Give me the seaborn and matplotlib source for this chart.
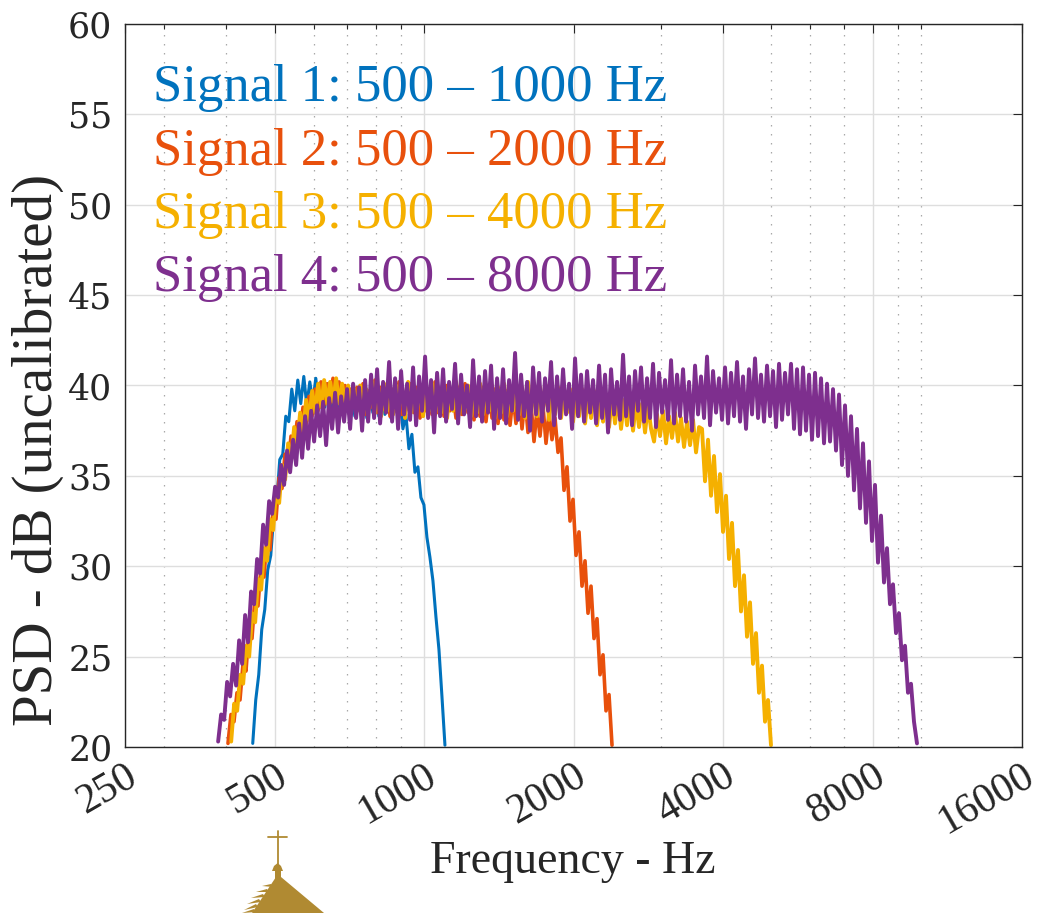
import numpy as np
import pandas as pd
import matplotlib
matplotlib.use("Agg")
import matplotlib.pyplot as plt
import seaborn as sns
from matplotlib.ticker import FixedLocator, FixedFormatter, NullFormatter, NullLocator
from matplotlib.patches import Polygon
from matplotlib.lines import Line2D

# ---------------- data ----------------
signal_labels = ["Signal 1: 500 – 1000 Hz", "Signal 2: 500 – 2000 Hz",
                 "Signal 3: 500 – 4000 Hz", "Signal 4: 500 – 8000 Hz"]
signal_colors = ["#0072BD", "#E8500C", "#F5B000", "#7E2F8E"]
signal_widths = [2.2, 2.6, 2.8, 2.8]

x_major_ticks = [250, 500, 1000, 2000, 4000, 8000, 16000]
x_minor_ticks = [300, 400, 600, 700, 800, 900, 3000, 5000, 6000, 7000, 9000, 10000]
y_ticks = [20, 25, 30, 35, 40, 45, 50, 55, 60]

# frequency span (Hz) of each PSD trace (bins log-spaced between the ends)
sig1_span = (452, 1102)
sig2_span = (403, 2391)
sig3_span = (409, 4997)
sig4_span = (385, 9833)

# PSD values (dB)
sig1_db = [20.2, 22.6, 24.0, 26.5, 27.6, 29.8, 30.6, 32.8, 33.6, 35.9,
           36.2, 38.3, 38.0, 39.8, 38.6, 40.3, 39.0, 40.5, 38.9, 40.2,
           39.1, 40.4, 38.7, 40.0, 38.8, 40.1, 38.5, 39.9, 38.6, 39.7,
           38.4, 39.8, 38.5, 39.6, 38.3, 39.7, 38.6, 39.5, 38.2, 39.6,
           38.5, 39.4, 38.3, 39.5, 38.4, 39.6, 38.2, 39.3, 38.5, 39.2,
           37.6, 38.4, 36.5, 37.3, 35.2, 35.5, 33.8, 33.4, 31.6, 30.5,
           29.2, 27.2, 25.4, 22.8, 20.1]

sig2_db = [20.2, 21.8, 21.4, 23.0, 22.6, 24.6, 24.2, 26.5, 26.0, 28.3,
           27.8, 30.0, 29.4, 31.6, 30.9, 33.1, 32.6, 34.9, 34.3, 36.2,
           35.4, 37.2, 36.4, 38.0, 37.2, 38.8, 37.8, 39.4, 38.3, 39.8,
           38.6, 40.2, 38.9, 40.1, 39.0, 40.4, 39.2, 40.2, 39.1, 40.0,
           39.0, 39.8, 38.8,
           39.9, 38.6, 40.1, 38.4, 39.7, 38.8, 40.3, 38.5, 39.9, 38.7,
           40.0, 38.3, 39.8, 38.6, 40.2, 38.4, 39.6, 38.7, 40.1, 38.5,
           39.9, 38.2, 40.0, 38.6, 39.7, 38.4, 40.2, 38.5, 39.8, 38.3,
           40.0, 38.6, 39.6, 38.2, 39.9, 38.4, 40.1, 38.5, 39.7, 38.1,
           39.8, 38.3, 39.9, 38.0, 39.6, 38.2, 39.8, 37.9, 39.5, 38.1,
           39.7, 37.8, 39.4, 37.9, 39.6, 37.6, 39.3,
           37.4, 39.0, 36.9, 38.7, 37.2, 38.9, 36.8, 38.5, 37.0, 38.2, 36.3,
           37.1, 34.2, 35.5, 32.5, 33.7, 30.6, 31.9, 28.9, 30.3, 27.4,
           28.9, 26.0, 27.1, 24.0, 25.1, 22.0, 22.9, 20.1]

sig3_db = [20.3, 22.4, 22.0, 24.0, 23.5, 25.6, 25.0, 27.4, 26.9, 29.3,
           28.7, 31.0, 30.3, 32.6, 32.0, 34.2, 33.5, 35.6, 34.8, 36.8,
           35.9, 37.7, 36.8, 38.5, 37.5, 39.2, 38.1, 39.7, 38.5, 40.1,
           38.8, 40.3, 39.0, 40.2, 39.1, 40.4, 39.0, 40.1, 38.9, 40.0,
           38.8, 39.8,
           38.6, 40.0, 38.4, 39.8, 38.7, 40.2, 38.5, 39.9, 38.3, 40.1,
           38.6, 39.7, 38.4, 40.0, 38.8, 39.9, 38.2, 40.2, 38.5, 39.8,
           38.7, 40.0, 38.3, 39.9, 38.6, 40.1, 38.4, 39.7, 38.5, 40.0,
           38.2, 39.8, 38.6, 40.2, 38.4, 39.9, 38.7, 40.0, 38.3, 39.8,
           38.5, 40.1, 38.4, 39.7, 38.6, 40.0, 38.2, 39.9, 38.5, 40.1,
           38.3, 39.8, 38.6, 40.0, 38.4, 39.9, 38.2, 40.2, 38.5, 39.7,
           38.3, 39.9, 38.6, 40.0, 38.1, 39.8, 38.4, 39.9, 38.2, 39.7,
           38.5, 39.8, 38.0, 39.6, 38.3, 39.8, 37.9, 39.5, 38.2, 39.7,
           37.8, 39.4, 38.0, 39.5, 37.7, 39.3, 37.9, 39.4, 37.6, 39.2,
           37.8, 39.3, 37.5, 39.1, 37.7, 39.0, 37.4, 38.9, 37.6,
           36.9, 38.4, 37.2, 38.6, 36.8, 38.3, 37.1, 38.5, 36.9, 38.2,
           36.6, 38.0, 36.7, 38.1, 36.3, 37.7,
           37.6, 34.7, 37.0, 33.9, 36.1, 33.0, 35.1, 31.9, 33.9, 30.4,
           32.4, 28.9, 30.9, 27.5, 29.5, 26.1, 28.0, 24.6, 26.3, 23.0,
           24.5, 21.4, 22.6, 20.1]

sig4_db = [20.3, 21.8, 21.5, 23.6, 22.8, 24.6, 23.4, 25.9, 24.6, 27.3,
           25.8, 28.6, 27.9, 30.4, 29.6, 32.3, 31.2, 33.6, 32.9, 34.4,
           33.8, 35.6, 34.5, 36.4, 35.2, 37.0, 35.6, 37.9, 36.0, 38.3,
           36.5, 38.6, 36.9, 38.9, 37.2, 39.1, 36.7, 39.3, 37.6, 39.6,
           37.4, 39.4, 38.0, 39.8, 37.6, 40.1, 38.2, 39.9, 37.5, 40.3,
           38.0,
           40.6, 38.2, 40.9, 37.9, 40.2, 38.5, 41.3, 38.0, 40.4, 37.6,
           40.8, 38.4, 40.1, 38.1, 41.0, 37.8, 40.5, 38.6, 41.6, 38.2,
           40.3, 37.4, 40.7, 38.3, 40.9, 38.0, 40.2, 38.7, 41.2, 37.9,
           40.6, 38.4, 40.0, 37.7, 41.4, 38.3, 40.5, 38.0, 40.8, 38.5,
           41.1, 37.6, 40.4, 38.2, 40.9, 37.9, 40.3, 38.6, 41.8, 38.1,
           40.6, 38.3, 40.2, 37.5, 41.0, 38.4, 40.7, 38.0, 40.4, 38.6,
           41.3, 37.8, 40.5, 38.2, 40.9, 38.4, 40.1, 37.6, 41.5, 38.3,
           40.6, 38.0, 40.8, 38.5, 40.3, 37.9, 41.1, 38.2, 40.6, 37.4,
           40.9, 38.4, 40.2, 38.1, 41.7, 38.3, 40.5, 37.8, 40.8, 38.6,
           41.0, 38.0, 40.4, 38.2, 41.2, 37.7, 40.7, 38.5, 40.3, 38.1,
           41.4, 37.9, 40.6, 38.3, 40.9, 38.0, 40.2, 37.5, 41.1, 38.4,
           40.5, 38.2, 41.6, 37.8, 40.8, 38.5, 40.4, 38.1, 41.0, 37.9,
           40.7, 38.3, 41.3, 38.0, 40.5, 37.6, 40.9, 38.4, 41.5, 38.2,
           40.6, 38.0, 41.1, 38.3, 40.8, 37.7, 41.2, 38.1, 40.7, 38.4,
           41.2, 37.6, 40.9, 37.3, 41.0, 37.5, 40.6, 37.0, 40.7, 37.2,
           40.4, 36.8,
           40.1, 36.9, 39.8, 36.4, 39.5, 35.6, 38.9, 35.0, 38.3, 34.2,
           37.6, 33.2, 36.8, 32.4, 35.8, 31.4, 34.5, 30.2, 32.8, 29.1,
           31.0, 27.9, 29.0, 26.3, 27.4, 24.8, 25.6, 23.0, 23.5, 21.4,
           20.2]

# ---------------- assemble ----------------
frames = []
for lab, span, vals in zip(signal_labels,
                           [sig1_span, sig2_span, sig3_span, sig4_span],
                           [sig1_db, sig2_db, sig3_db, sig4_db]):
    frames.append(pd.DataFrame({"Frequency": np.geomspace(span[0], span[1], len(vals)),
                                "PSD": vals, "Signal": lab}))
df = pd.concat(frames, ignore_index=True)

sns.set_theme(style="white")
plt.rcParams["font.family"] = ["Liberation Serif", "DejaVu Serif"]

W, H = 1043, 913
fig = plt.figure(figsize=(W / 100, H / 100), dpi=100)
ax = fig.add_axes([125 / W, 1 - 747 / H, 897 / W, 723 / H])
ax.set_xscale("log")

for lab, col, lw in zip(signal_labels, signal_colors, signal_widths):
    sns.lineplot(data=df[df["Signal"] == lab], x="Frequency", y="PSD",
                 color=col, estimator=None, sort=False, linewidth=lw,
                 legend=False, ax=ax)

ax.set_xlim(250, 16000)
ax.set_ylim(20, 60)

# ticks
ax.xaxis.set_major_locator(FixedLocator(x_major_ticks))
ax.xaxis.set_major_formatter(FixedFormatter([str(t) for t in x_major_ticks]))
ax.xaxis.set_minor_locator(FixedLocator(x_minor_ticks))
ax.xaxis.set_minor_formatter(NullFormatter())
ax.yaxis.set_major_locator(FixedLocator(y_ticks))
ax.yaxis.set_minor_locator(NullLocator())

ax.tick_params(axis="both", which="both", direction="in", top=True, right=True,
               color="#262626", width=0.8)
ax.tick_params(which="major", length=6.5)
ax.tick_params(which="minor", length=3.5)
ax.tick_params(axis="x", which="major", pad=7, labelsize=30, labelcolor="#262626")
ax.tick_params(axis="y", which="major", pad=9, labelsize=25, labelcolor="#262626")

for lbl in ax.get_xticklabels():
    lbl.set_rotation(30)
    lbl.set_rotation_mode("anchor")
    lbl.set_ha("right")
    lbl.set_va("top")
    lbl.set_fontfamily("Liberation Serif")
for lbl in ax.get_yticklabels():
    lbl.set_fontfamily("DejaVu Serif")

# grid
ax.set_axisbelow(True)
ax.grid(which="major", color="#dedede", linewidth=1.0, linestyle="-")
ax.grid(which="minor", axis="x", color="#a8a8a8", linewidth=0.9, linestyle=(0, (1.2, 6)))

for sp in ax.spines.values():
    sp.set_color("#262626")
    sp.set_linewidth(1.0)
    sp.set_visible(True)

# labels
ax.set_xlabel("")
ax.set_ylabel("")
fig.text(573 / W, 1 - 862 / H, "Frequency - Hz", ha="center", va="center",
         fontsize=33, color="#262626", family="Liberation Serif")
fig.text(38 / W, 1 - 450 / H, "PSD - dB (uncalibrated)", ha="center", va="center",
         rotation=90, fontsize=41, color="#262626", family="Liberation Serif")

# legend as coloured text
handles = [Line2D([], [], color=c, linewidth=0) for c in signal_colors]
leg = ax.legend(handles, signal_labels, loc="upper left", bbox_to_anchor=(0.031, 0.944),
                frameon=False, handlelength=0, handletextpad=0, borderpad=0,
                borderaxespad=0, labelspacing=0.29, labelcolor=signal_colors,
                prop={"family": "Liberation Serif", "size": 38})

# small gold logo at the bottom
gold = "#B08A32"
def P(x, y):
    return (x / W, 1 - y / H)
fig.add_artist(Line2D([277.7 / W, 277.7 / W], [1 - 831 / H, 1 - 866 / H],
                      transform=fig.transFigure, color=gold, linewidth=1.3))
fig.add_artist(Line2D([268 / W, 287 / W], [1 - 837 / H, 1 - 837 / H],
                      transform=fig.transFigure, color=gold, linewidth=1.3))
dome = [P(272, 871), P(274, 866), P(277.7, 863), P(281, 866), P(283, 871)]
fig.add_artist(Polygon(dome, closed=True, transform=fig.transFigure, color=gold, lw=0))
turret = [P(275, 869), P(281, 869), P(281, 880), P(275, 880)]
fig.add_artist(Polygon(turret, closed=True, transform=fig.transFigure, color=gold, lw=0))
roof = [P(276, 877), P(281, 877), P(324, 913), P(252, 913)]
fig.add_artist(Polygon(roof, closed=True, transform=fig.transFigure, color=gold, lw=0))
for (x0, y0, x1, y1) in [(271, 884, 262, 886), (267, 889, 256, 892), (263, 894, 251, 898),
                         (259, 899, 247, 904), (256, 904, 244, 910), (254, 909, 242, 913)]:
    fig.add_artist(Polygon([P(x0, y0), P(x1, y1), P(x0 + 2, y0 + 3)], closed=True,
                           transform=fig.transFigure, color=gold, lw=0))

fig.savefig("out.png", dpi=100, facecolor="white")
